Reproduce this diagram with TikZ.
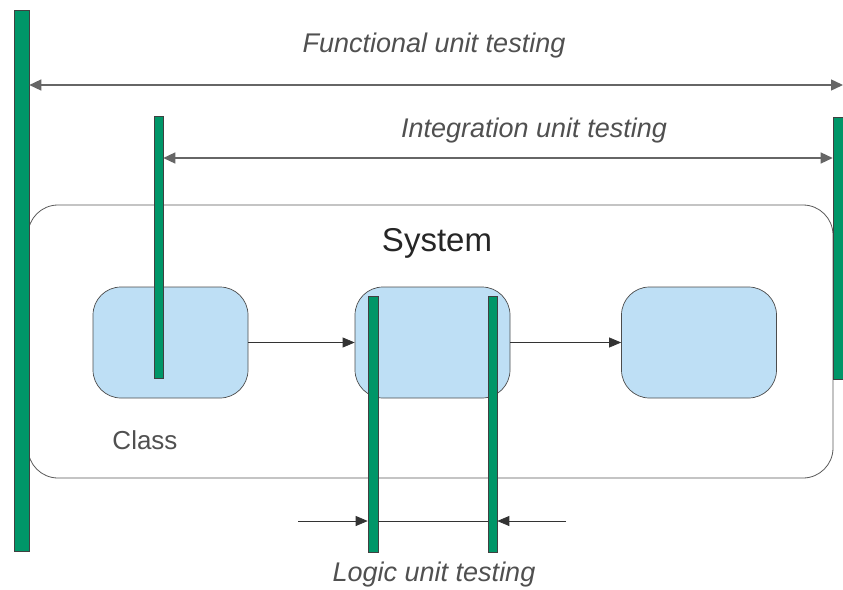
\documentclass[tikz,border=0pt]{standalone}
\usepackage{fontspec}
\setmainfont{Liberation Sans}
\usetikzlibrary{arrows.meta}

\definecolor{bargreen}{RGB}{0,150,104}
\definecolor{classblue}{RGB}{190,223,245}
\definecolor{labelgray}{RGB}{80,80,80}

\begin{document}
\begin{tikzpicture}[x=1pt, y=-1pt,
    testbar/.style={draw=black!75, line width=0.6pt, fill=bargreen, inner sep=0pt, minimum width=#1},
    testbar/.default=9,
    classbox/.style={draw=black!70, line width=0.7pt, fill=classblue, rounded corners=28pt,
        minimum width=155pt, minimum height=111pt},
    testspan/.style={draw=black!60, line width=1.4pt,
        {Triangle[length=12pt,width=11pt]}-{Triangle[length=12pt,width=11pt]}},
    flow/.style={draw=black!80, line width=0.7pt, -{Triangle[length=12pt,width=10pt]}},
    testlabel/.style={text=labelgray, font=\itshape\fontsize{27}{31}\selectfont}]

    \useasboundingbox (0,0) rectangle (843,589);

    % system frame and its classes
    \draw[draw=black!65, line width=0.8pt, rounded corners=30pt] (28,205) rectangle (833,478);
    \node[font=\fontsize{33}{38}\selectfont, text=black!85] (systext) at (437,243) {System};

    \node[classbox] (c1) at (170.5,342.5) {};
    \node[classbox] (c2) at (432.5,342.5) {};
    \node[classbox] (c3) at (699,342.5) {};
    \node[font=\fontsize{26}{30}\selectfont, text=labelgray] (clstext) at (145,440) {Class};

    \draw[flow] (c1) -- (c2);
    \draw[flow] (c2) -- (c3);

    % test bars
    \node[testbar=15, minimum height=541pt] (fbar) at (21.5,280.5) {};
    \node[testbar=10, minimum height=262pt] (rbar) at (838,248) {};
    \node[testbar, minimum height=262pt] (ibar) at (158.5,247) {};
    \node[testbar=10, minimum height=256pt] (lbar1) at (373,424) {};
    \node[testbar, minimum height=256pt] (lbar2) at (492.5,424) {};

    % functional unit testing
    \coordinate (fend) at (843,85);
    \draw[testspan] (fbar.east |- fend) -- (fend);
    \node[testlabel] (ftext) at (434,46) {Functional unit testing};

    % integration unit testing
    \coordinate (ilevel) at (0,158);
    \draw[testspan] (ibar.east |- ilevel) -- (rbar.west |- ilevel);
    \node[testlabel] (itext) at (534,131) {Integration unit testing};

    % logic unit testing
    \coordinate (lleft) at (298,521);
    \coordinate (lright) at (566,521);
    \draw[flow] (lleft) -- (lbar1.west |- lleft);
    \draw[flow] (lright) -- (lbar2.east |- lright);
    \draw[draw=black!80, line width=0.7pt] (lbar1.east |- lleft) -- (lbar2.west |- lright);
    \node[testlabel] (ltext) at (434,575) {Logic unit testing};
\end{tikzpicture}
\end{document}
